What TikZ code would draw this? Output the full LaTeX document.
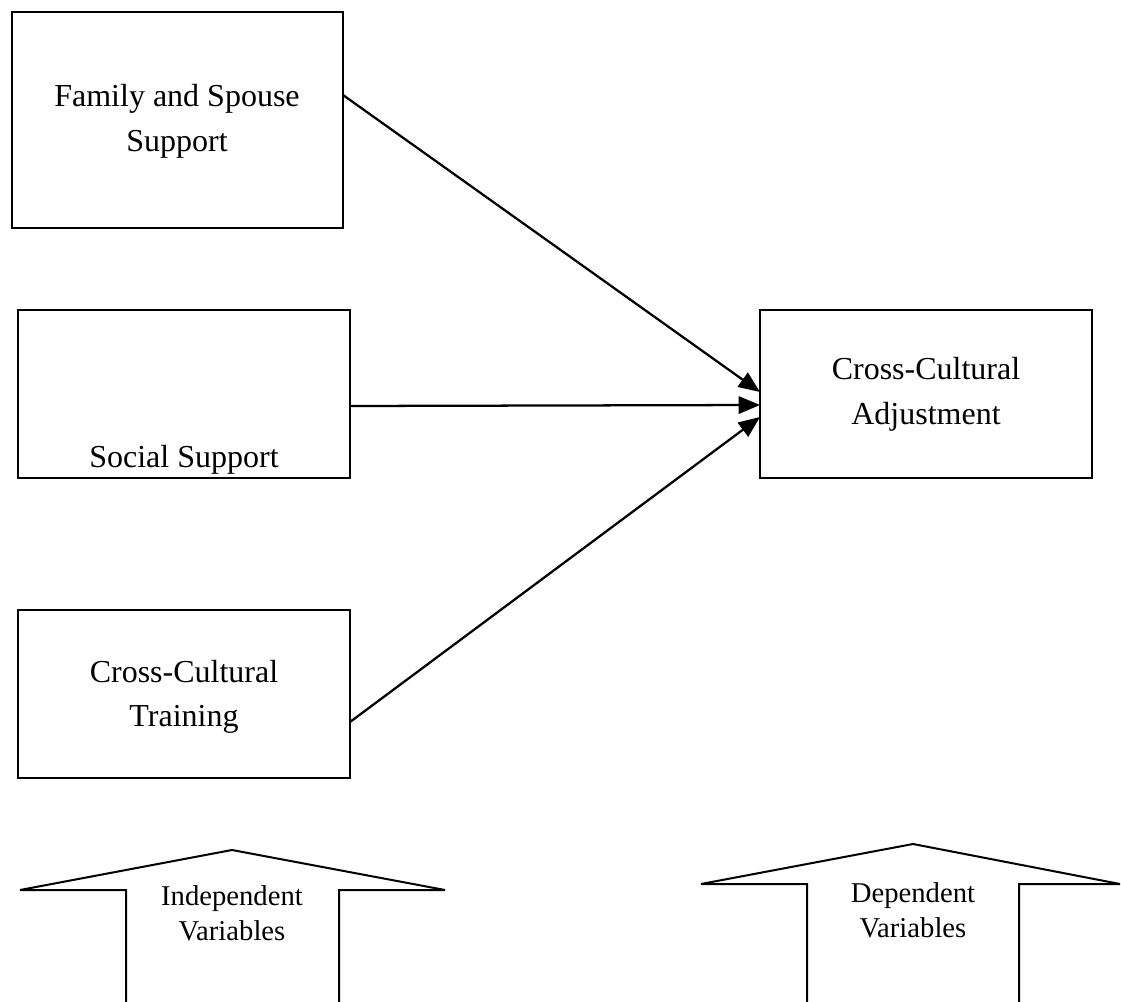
\documentclass[tikz,border=0pt]{standalone}
\usepackage{fontspec}
\setmainfont{Liberation Serif}
\usetikzlibrary{arrows.meta}
\begin{document}
\begin{tikzpicture}[x=0.75pt,y=-0.75pt,
  varbox/.style={draw,line width=1.4pt,inner sep=0pt},
  boxtext/.style={font=\fontsize{24}{33.5}\selectfont,align=center},
  tagtext/.style={font=\fontsize{21.5}{26}\selectfont,align=center},
  link/.style={line width=1.7pt,-{Triangle[length=16pt,width=13pt]}},
  blockarrow/.style={draw,line width=1.5pt,line join=miter}]
\useasboundingbox (0,0) rectangle (1121,1002);
% independent variables
\draw[varbox] (12,12) rectangle (343,228);
\node[boxtext] (fam) at (177,121) {Family and Spouse\\Support};
\draw[varbox] (18,310) rectangle (350,478);
\node[boxtext] (soc) at (184,460) {Social Support};
\draw[varbox] (18,610) rectangle (350,778);
\node[boxtext] (tra) at (184,697) {Cross-Cultural\\Training};
% dependent variable
\draw[varbox] (760,310) rectangle (1092,478);
\node[boxtext] (adj) at (926,394) {Cross-Cultural\\Adjustment};
% connection points on the box edges
\coordinate (famR) at (343,95);
\coordinate (socR) at (350,406);
\coordinate (traR) at (350,722);
\coordinate (adjA) at (760,392);
\coordinate (adjB) at (760,405);
\coordinate (adjC) at (760,417);
\draw[link] (famR) -- (adjA);
\draw[link] (socR) -- (adjB);
\draw[link] (traR) -- (adjC);
% block arrows labelling the two groups
\draw[blockarrow] (126,1003) -- (126,890) -- (20,890) -- (232,850) -- (445,890) -- (339,890) -- (339,1003);
\node[tagtext] (indep) at (232,913) {Independent\\Variables};
\draw[blockarrow] (807,1003) -- (807,884) -- (701,884) -- (913,844) -- (1120,884) -- (1019,884) -- (1019,1003);
\node[tagtext] (dep) at (913,910) {Dependent\\Variables};
\end{tikzpicture}
\end{document}
